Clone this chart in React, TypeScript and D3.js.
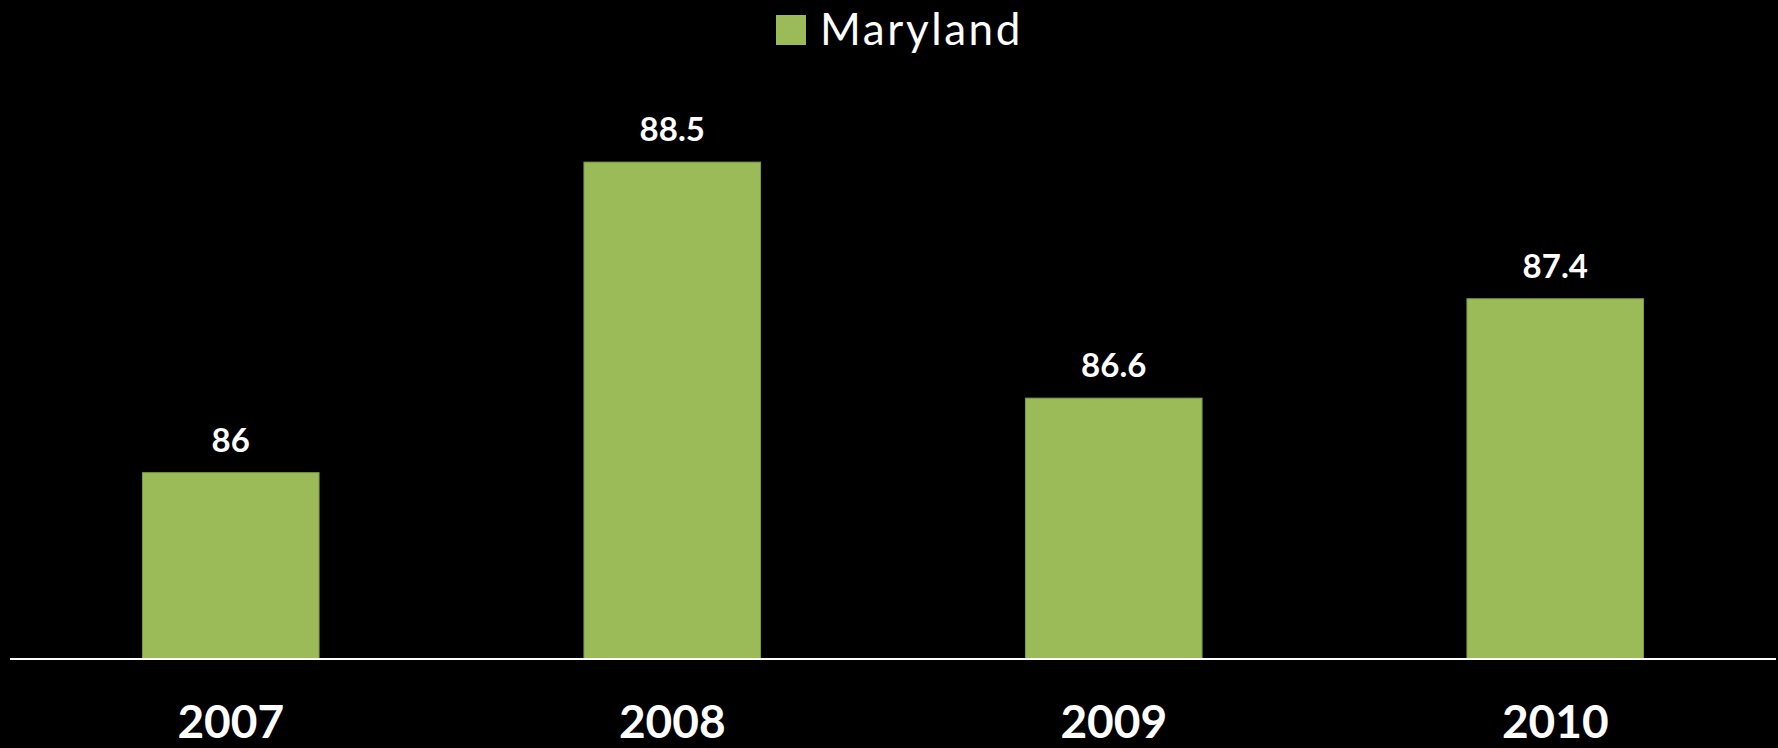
import React from "react";
import * as d3 from "d3";

const categories = ["2007", "2008", "2009", "2010"];
const values = [86, 88.5, 86.6, 87.4];
const seriesName = "Maryland";
const valueLabels = ["86", "88.5", "86.6", "87.4"];

const W = 1778;
const H = 748;
const FONT = "Lato, 'Open Sans', sans-serif";

export default function App() {
  const x = d3.scaleBand<string>().domain(categories).range([10, 1776]).paddingInner(0.6).paddingOuter(0.3);
  const y = d3.scaleLinear().domain([84.5, 89]).range([659, 100]);
  const baseline = y(84.5);

  return (
    <div style={{ position: "absolute", left: 0, top: 0, width: W, height: H, background: "#000" }}>
      <svg width={W} height={H} style={{ display: "block", background: "#000" }}>
        <rect x={0} y={0} width={W} height={H} fill="#000" />
        {/* legend */}
        <rect x={776} y={15} width={30} height={30} fill="#9BBB59" />
        <text x={820} y={45} fill="#fff" fontFamily={FONT} fontSize={44} letterSpacing={2.6}>
          {seriesName}
        </text>
        {/* bars */}
        {categories.map((c, i) => (
          <g key={c}>
            <rect
              x={x(c)}
              y={y(values[i])}
              width={x.bandwidth()}
              height={baseline - y(values[i])}
              fill="#9BBB59"
              stroke="#7f9a49"
              strokeWidth={1}
            />
            <text
              x={(x(c) as number) + x.bandwidth() / 2}
              y={y(values[i]) - 21}
              textAnchor="middle"
              fill="#fff"
              fontFamily={FONT}
              fontWeight={700}
              fontSize={33}
            >
              {valueLabels[i]}
            </text>
            <text
              x={(x(c) as number) + x.bandwidth() / 2}
              y={738}
              textAnchor="middle"
              fill="#fff"
              fontFamily={FONT}
              fontWeight={700}
              fontSize={46}
            >
              {c}
            </text>
          </g>
        ))}
        {/* axis line */}
        <line x1={10} x2={1776} y1={baseline} y2={baseline} stroke="#fff" strokeWidth={2} />
      </svg>
    </div>
  );
}
